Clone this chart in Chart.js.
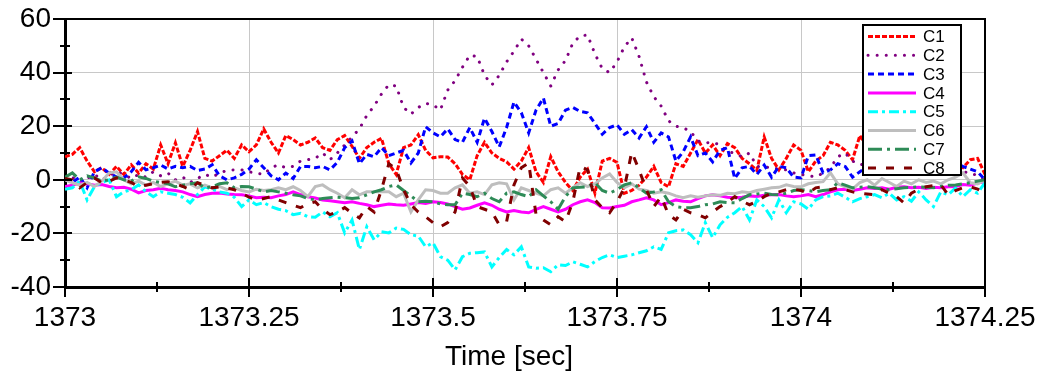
<!DOCTYPE html>
<html>
<head>
<meta charset="utf-8">
<title>C1-C8 vs time</title>
<script src="https://cdn.jsdelivr.net/npm/chart.js@4.4.1/dist/chart.umd.min.js"></script>
<style>
  html, body { margin: 0; padding: 0; background: #fff; }
  #wrap { width: 1040px; height: 382px; }
</style>
</head>
<body>
<div id="wrap"><canvas id="chart" width="1040" height="382"></canvas></div>
<script>
// samples every 10 ms starting at 1373 s
var t0 = 1373;
var dt = 0.01;

var seriesNames = ['C1', 'C2', 'C3', 'C4', 'C5', 'C6', 'C7', 'C8'];
var xTicks = [1373, 1373.25, 1373.5, 1373.75, 1374, 1374.25];
var yTicks = [-40, -20, 0, 20, 40, 60];
var xTitle = 'Time [sec]';

var c1 = [8.6, 9.5, 12, 7, 3, 4.5, 2, 5, 2, 5.6, 2.5, 6, 4, 13, 6, 13.8, 5, 11, 18, 8,
  7, 9, 11, 8, 13, 10.5, 13, 19, 14, 10, 16.5, 15, 13, 14, 15.6, 12, 11, 15, 16.5, 12.5,
  8, 12, 14, 15.5, 6, 2, 12, 13, 16.8, 11, 8.2, 8.6, 8.5, 6, 2, 0, 9, 14, 10, 8,
  6.7, 4, 7, 12, 3, -1, 8.6, 3, -1, -4, 1, 4, -5, 7, 8, 6.5, -5, -4, -2, 1,
  5, -1, -2.6, 6, 5, 10, 15, 10, 13, 9, 13.5, 12, 8, 6, 3.5, 16, 8, 3.7, 8, 13,
  11, 3, 7, 9, 14, 13, 11, 7.5, 16.5, 12, 14, 9, 12, 15, 8, 11, 13, 9, 12, 7,
  10, 6, 4.5, 7.5, 8, 2];
var c2 = [0, 1, -1, 0.5, 2, 0, 1.5, 3, 2, 0.5, 2, 1, 3, 1.5, 2.5, 0, 1, -1, 0.5, 2,
  1, 2.5, 3.5, 3.7, 3.7, 3, 2.5, 2, 4.5, 5.6, 4.5, 5, 7, 7.5, 8, 10, 7.5, 10, 13, 16,
  19, 24, 27.5, 32, 35.5, 35, 27, 24.5, 27, 28.5, 28, 26, 33.5, 37, 42, 46.5, 46, 39, 35.4, 39,
  44, 48, 52.5, 50, 45, 40, 35, 41, 44.5, 51, 53.7, 54, 47, 41.5, 40, 44, 49.6, 53, 46, 36.5,
  31, 27.5, 22, 20, 19.4, 18, 14.5, 13.8, 14, 13, 10.4, 10, 8.6, 10, 5, 4.8, 4.5, 4, 3.7, 2.6,
  2, 1.5, 1.1, 2.5, 4.5, 8.6, 10, 7, 5.6, 6, 4, 7, 5, 8, 6, 4, 7, 5, 6, 4,
  5, 3.5, 3, 2.6, 1.5, 0];
var c3 = [0.5, -1, 1, -3, 3, 4.5, 2.5, 1, 0.7, 3, 6.5, 3.7, 4.5, 5.5, 4, 5, 4.5, 5, 3.5, 4,
  5.6, 1.5, 0, 0.7, 2, 4, 7.5, 4.5, 1.5, 0, 2.5, 0.5, 5, 5, 4.5, 5, 3.7, 6.5, 12, 14.5,
  6, 9.5, 8.6, 12, 9, 10, 11, 6.3, 10, 19.8, 17.5, 16, 19, 15, 14, 19.5, 14, 23, 18, 12.3,
  19.5, 29, 25, 17.5, 26, 30.5, 20, 21, 26, 27, 25.5, 25, 21, 17, 19.5, 20.5, 17, 18.7, 15.6, 19.8,
  14, 17.5, 16, 7, 10.5, 16, 9, 10, 6.7, 11, 12, 0.5, 4.5, 5, 2, 5.5, 1, 5, 4.5, 1,
  0.7, 9, 9.3, 2.6, 3.7, 6, 5, 1, 3, 5, 4, 7, 3.5, 6, 4, 5.5, 3, 6, 4.5, 3.5,
  5, 6.3, 5, 4, 3, 0];
var c4 = [-2.5, -2, -1.2, -1.5, -2, -1.8, -2.5, -3, -2.8, -3.5, -4.9, -4, -3.7, -3.2, -3.7, -4, -4.5, -5.5, -6.3, -5.5,
  -5, -4.9, -5.3, -5.5, -5.6, -6, -6.7, -6.5, -6.7, -6, -5.5, -4.5, -5.5, -6.3, -6.8, -7.5, -7.8, -8.2, -8.6, -8.2,
  -8.8, -9.3, -10, -9.5, -9, -9.3, -9.5, -9, -8.5, -8.8, -8.2, -8.5, -9, -10, -11, -10.5, -9.5, -8.6, -9.5, -11,
  -12, -11.5, -12, -12.3, -11, -10, -11, -12, -11, -9.3, -8.2, -7.5, -8.5, -10.4, -10.5, -10, -9.5, -8.2, -7.5, -6.7,
  -7.5, -9.3, -8.5, -7.5, -8, -8.2, -7, -6, -5.6, -6, -6.5, -6.7, -6.5, -6, -6.2, -5.8, -5.6, -5.5, -6, -6.3,
  -6, -5.5, -6.3, -5.5, -4.5, -3.7, -3.5, -4, -3.5, -3, -3.2, -3, -3.5, -2.8, -2.6, -3, -2.8, -3.2, -2.8, -3,
  -2.6, -2.5, -1.8, -2, -1.2, -0.7];
var c5 = [-3.5, -3, -0.5, -7.5, -2.6, -1, 0, -6.3, -4.5, -3.7, -1.9, -4.5, -6.3, -4.5, -5, -5.5, -6.5, -8.6, -5.5, -2.6,
  -3.5, -4.5, -5, -6.5, -10, -7.5, -9.3, -8.5, -10, -11, -11.5, -13, -12.5, -13.8, -14, -12, -13.8, -12.3, -19.8, -15,
  -26, -17.5, -22.4, -19.4, -19.8, -18, -18.5, -20.5, -21, -25, -23.5, -28.7, -30, -33.6, -28.7, -27.4, -27.2, -26.9, -32.5, -29,
  -26, -28, -25, -32.5, -33, -32.8, -34.3, -31.7, -32, -30.6, -31.5, -32.5, -30.5, -29, -28, -29, -28.5, -28, -27.2, -26.5,
  -25, -26, -19.8, -19, -18.7, -20.5, -23.5, -16, -21.6, -16.8, -14, -12.3, -10, -15, -7.5, -10, -14.2, -7.5, -12.3, -8.2,
  -9, -11, -7.5, -6.3, -6, -5, -6.5, -8.2, -7, -6.3, -5.5, -6.7, -5, -7.5, -6.3, -8, -4.5, -7.5, -10, -4.5,
  -5.6, -3, -6.3, -3.7, -5, -1];
var c6 = [0, -1.1, -2, -1, -2.5, -0.5, 2.6, 3, 0, -1.5, -0.5, -2, -1, -2.5, -1.5, -0.5, -2, -1.5, -3, -2,
  -3, -2.5, -3.7, -3, -4, -4.5, -3.5, -4, -3.7, -3, -3.7, -2.6, -4, -6.3, -2.5, -1.9, -3.7, -5, -6.7, -3.7,
  -5.6, -4.5, -4.5, -4.5, -4.5, -6.3, -5, -12, -7.5, -3.7, -4, -5, -5, -3, -1.9, -5, -4.5, -5.5, -1.9, -1.1,
  -1.5, -7.5, -3, -4, -5, -6, -3.7, -3, -5, -3, -1.1, -2.5, -1.5, 0.7, 2.2, -1, -3, -1.5, -3.5, -4,
  -5, -4.5, -5, -6, -6.7, -6, -6.5, -6, -5.6, -5.8, -5, -5.2, -4.5, -4.8, -4, -3.5, -3, -2.8, -1.9, -2.5,
  -2.6, -1.5, -1, -0.7, 2.6, -1.5, -2.6, -3.5, -1, 0, -2, 0.5, -1, -2.5, -0.5, -1.5, 0, -1, -0.5, -1.5,
  0, 1, 2.6, -1.1, -1.5, 0];
var c7 = [1, 2.6, 0, 1.5, 0.7, -0.5, 0, 1, 0, -0.5, 1.1, 0.5, -0.5, -1, -1.5, -2.6, -2, -1.5, -1.1, -3,
  -2.6, -1.5, -1.1, -3, -2.5, -2.6, -3.5, -4.5, -4, -4.5, -5, -5.6, -6, -7, -7.5, -7, -6.7, -6.5, -6.7, -7,
  -6.7, -5.6, -4.5, -3.7, -2.5, -1.9, -4, -6, -8.2, -8, -8.2, -9, -9.3, -9.3, -5, -5.5, -6.3, -5, -7, -8.2,
  -5, -4.5, -5.5, -6.3, -3.7, -6, -8.2, -11, -6.3, -3, -2.8, -2.6, -1.1, -4, -5, -3.7, -1.9, -1.1, -3, -5,
  -4.5, -3.7, -8.2, -10, -10.4, -10.4, -10, -9.3, -9, -8.2, -8.5, -8.6, -7, -5.6, -5.3, -5, -5.5, -5.6, -5, -4,
  -3.7, -4, -4.5, -4, -3.7, -1.1, -2, -3, -2.8, -2.6, -3, -3.5, -3.7, -3.3, -3, -2.8, -2.6, -2.8, -3, -2.5,
  -2, -1.9, -1.5, -1.1, -0.5, 0];
var c8 = [0.5, 0, -3, -1, 0.7, -1.1, -0.5, 0.7, 0, -1, -2.6, -2, -1.5, -1, -0.7, -1.5, -2.5, -3.7, -1.1, -2,
  -3, -2.6, -3, -3.7, -5, -6.5, -7.5, -7, -6.3, -7.5, -8.5, -9.5, -10.4, -9, -8.2, -11, -13, -12, -10.4, -12.5,
  -14.2, -10, -12, -3.7, 6, 4, -3.7, -9.3, -12, -13.8, -16, -17.5, -16, -12, 0.7, -2.5, -10, -11, -12, -16.8,
  -15.6, -1.9, 4.5, 6.3, -13, -15, -16.8, -13.8, -15.6, -8.2, 5, 3.7, -7.5, -10.4, -12.3, -8.2, -3, 10.4, 3.7, -3.7,
  -10, -6.3, -13, -15, -11, -12.3, -13, -14.2, -12, -10, -8.5, -6.3, -8, -9.3, -8, -6.3, -5, -4.5, -3.7, -3.5,
  -4, -5, -3, -2.6, -3.7, -3, -3.7, -4.5, -5, -5.3, -5.6, -3.7, -5, -6.3, -8.6, -5, -3.5, -2.6, -2.2, -1.9,
  -5.6, -4, -3, -2.6, -3.5, -5];

var seriesValues = [c1, c2, c3, c4, c5, c6, c7, c8];
var seriesColors = ['#ff0000', '#800080', '#0000ff', '#ff00ff', '#00ffff', '#bebebe', '#2e8b57', '#800000'];
var seriesDashes = [[5, 2], [0.1, 9], [6, 4], [], [10, 4, 3, 4], [], [14, 5, 3, 5], [8, 10]];

function toPoints(vals) {
  return vals.map(function (v, i) {
    return { x: +(t0 + i * dt).toFixed(2), y: v };
  });
}

var datasets = seriesNames.map(function (name, k) {
  return {
    label: name,
    data: toPoints(seriesValues[k]),
    borderColor: seriesColors[k],
    borderWidth: 3,
    borderDash: seriesDashes[k],
    borderCapStyle: k === 1 ? 'round' : 'butt',
    pointRadius: 0,
    tension: 0,
    fill: false,
    order: 8 - k
  };
});

var FONT = 'Liberation Sans, Arial, sans-serif';

// frame, crossing tick marks, axis title and the boxed legend
var framePlugin = {
  id: 'frame',
  afterDraw: function (chart) {
    var ctx = chart.ctx;
    var a = chart.chartArea;
    var xs = chart.scales.x, ys = chart.scales.y;
    ctx.save();
    ctx.strokeStyle = '#000';

    ctx.lineWidth = 2;
    ctx.beginPath();
    ctx.moveTo(a.left, a.top);
    ctx.lineTo(a.right, a.top);
    ctx.lineTo(a.right, a.bottom);
    ctx.stroke();

    ctx.lineWidth = 2;
    ctx.beginPath();
    for (var v = -40; v <= 60; v += 10) {
      var py = Math.round(ys.getPixelForValue(v));
      var major = v % 20 === 0;
      ctx.moveTo(a.left - (major ? 12 : 5), py);
      ctx.lineTo(a.left + (major ? 7 : 5), py);
    }
    for (var j = 0; j <= 10; j++) {
      var t = 1373 + j * 0.125;
      var px = Math.round(xs.getPixelForValue(t));
      var maj = j % 2 === 0;
      ctx.moveTo(px, a.bottom - (maj ? 9 : 5));
      ctx.lineTo(px, a.bottom + (maj ? 10 : 5));
    }
    ctx.stroke();

    // x axis title sits a little left of the plot centre in the original
    ctx.fillStyle = '#000';
    ctx.font = '28px ' + FONT;
    ctx.textAlign = 'center';
    ctx.textBaseline = 'middle';
    ctx.fillText(xTitle, (a.left + a.right) / 2 - 16, 357);

    // legend box
    var bx = 863, by = 25, bw = 98, bh = 150;
    ctx.fillStyle = '#fff';
    ctx.fillRect(bx, by, bw, bh);
    ctx.lineWidth = 2;
    ctx.strokeRect(bx, by, bw, bh);
    ctx.font = '17px ' + FONT;
    ctx.textBaseline = 'middle';
    ctx.textAlign = 'left';
    chart.data.datasets.forEach(function (ds, k) {
      var ry = 36.5 + k * 18.8;
      ctx.strokeStyle = ds.borderColor;
      ctx.lineWidth = 3;
      ctx.lineCap = ds.borderCapStyle;
      ctx.setLineDash(ds.borderDash);
      ctx.beginPath();
      ctx.moveTo(868, ry);
      ctx.lineTo(916, ry);
      ctx.stroke();
      ctx.setLineDash([]);
      ctx.fillStyle = '#000';
      ctx.fillText(ds.label, 923, ry + 1);
    });
    ctx.restore();
  }
};

new Chart(document.getElementById('chart'), {
  type: 'line',
  data: { datasets: datasets },
  options: {
    responsive: false,
    animation: false,
    devicePixelRatio: 1,
    layout: { padding: { left: 4, right: 55, top: 19, bottom: 4 } },
    plugins: {
      legend: { display: false },
      tooltip: { enabled: false }
    },
    scales: {
      x: {
        type: 'linear',
        min: 1373,
        max: 1374.25,
        afterBuildTicks: function (s) { s.ticks = xTicks.map(function (v) { return { value: v }; }); },
        afterFit: function (s) { s.height = 91; s.paddingLeft = 0; s.paddingRight = 0; },
        ticks: {
          color: '#000',
          font: { family: FONT, size: 28 },
          padding: 14,
          maxRotation: 0,
          autoSkip: false,
          callback: function (v) { return String(v); }
        },
        grid: { color: '#c8c8c8', lineWidth: 1, drawTicks: false },
        border: { color: '#000', width: 3 }
      },
      y: {
        min: -40,
        max: 60,
        afterBuildTicks: function (s) { s.ticks = yTicks.map(function (v) { return { value: v }; }); },
        afterFit: function (s) { s.width = 61; s.paddingTop = 0; s.paddingBottom = 0; },
        ticks: {
          color: '#000',
          font: { family: FONT, size: 28 },
          padding: 14
        },
        grid: { color: '#c8c8c8', lineWidth: 1, drawTicks: false },
        border: { color: '#000', width: 3 }
      }
    }
  },
  plugins: [framePlugin]
});
</script>
</body>
</html>
